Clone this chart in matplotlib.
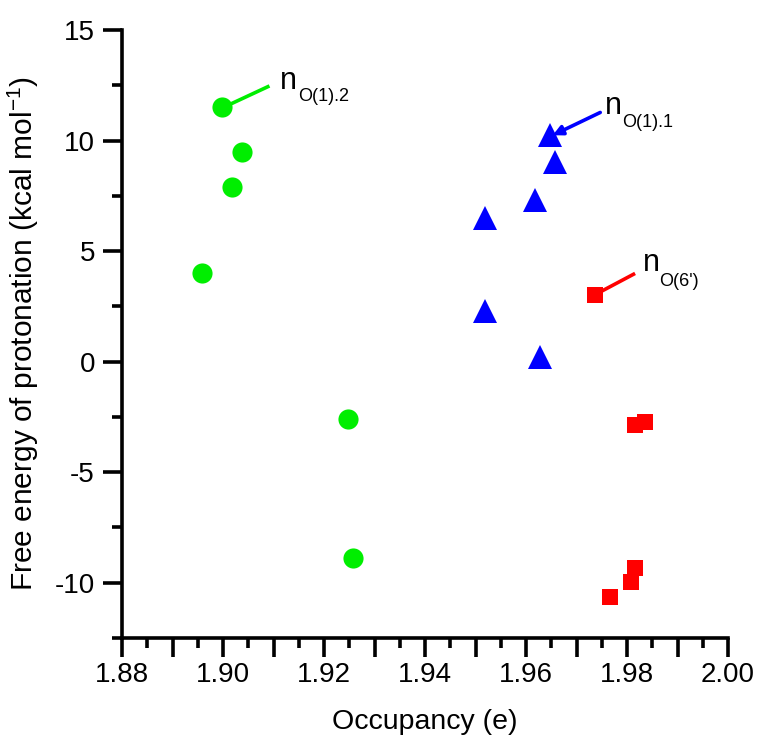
import matplotlib
matplotlib.use("Agg")
import matplotlib.pyplot as plt
from matplotlib.ticker import MultipleLocator

plt.rcParams['font.family'] = ['Liberation Sans', 'DejaVu Sans']
plt.rcParams['mathtext.fontset'] = 'custom'
plt.rcParams['mathtext.rm'] = 'Liberation Sans'
plt.rcParams['mathtext.it'] = 'Liberation Sans'

# Data
o12_x = [1.8998, 1.9038, 1.9018, 1.8959, 1.9248, 1.9257]
o12_y = [11.5, 9.5, 7.9, 4.0, -2.6, -8.9]

o11_x = [1.9648, 1.9657, 1.9618, 1.9518, 1.9518, 1.9628]
o11_y = [10.25, 9.05, 7.3, 6.5, 2.3, 0.2]

o6_x = [1.9737, 1.9816, 1.9836, 1.9816, 1.9807, 1.9766]
o6_y = [3.0, -2.85, -2.75, -9.35, -9.95, -10.65]

x_ticks = [1.88, 1.89, 1.90, 1.91, 1.92, 1.93, 1.94, 1.95, 1.96, 1.97, 1.98, 1.99, 2.00]
x_labels = ['1.88', '', '1.90', '', '1.92', '', '1.94', '', '1.96', '', '1.98', '', '2.00']
y_ticks = [-10, -5, 0, 5, 10, 15]
y_labels = ['-10', '-5', '0', '5', '10', '15']

fig = plt.figure(figsize=(7.58, 7.39), dpi=100)
ax = fig.add_axes([122/758, 1-638/739, (728-122)/758, (638-30)/739])

ax.plot(o12_x, o12_y, 'o', color='#00ee00', markersize=14.5, markeredgewidth=0, clip_on=False)
ax.plot(o11_x, o11_y, '^', color='#0000ff', markersize=17, markeredgewidth=0, clip_on=False)
ax.plot(o6_x, o6_y, 's', color='#ff0000', markersize=12, markeredgewidth=0, clip_on=False)

ax.set_xlim(1.88, 2.00)
ax.set_ylim(-12.5, 15)

for s in ['top', 'right']:
    ax.spines[s].set_visible(False)
for s in ['left', 'bottom']:
    ax.spines[s].set_linewidth(2.6)

ax.set_xticks(x_ticks)
ax.set_xticklabels(x_labels)
ax.xaxis.set_minor_locator(MultipleLocator(0.005))
ax.set_yticks(y_ticks)
ax.set_yticklabels(y_labels)
ax.yaxis.set_minor_locator(MultipleLocator(2.5))

ax.tick_params(which='major', direction='out', length=13.5, width=2.6, labelsize=20, pad=4)
ax.tick_params(which='minor', direction='out', length=7, width=2.6)
ax.tick_params(axis='y', which='major', pad=6)

ax.set_xlabel('Occupancy (e)', fontsize=20.5, labelpad=15)
ax.set_ylabel(r'Free energy of protonation (kcal mol$^{-1}$)', fontsize=21.5, labelpad=10)

# annotations
ax.plot([1.9014, 1.9092], [11.64, 12.47], color='#00ee00', lw=2.6, solid_capstyle='butt')
ax.text(1.9113, 12.32, 'n', fontsize=22, color='black', ha='left', va='baseline')
ax.text(1.9149, 11.78, 'O(1).2', fontsize=13, color='black', ha='left', va='baseline')

ax.annotate('', xy=(1.9653, 10.24), xytext=(1.9747, 11.27),
            arrowprops=dict(arrowstyle='-|>', color='#0000ff', lw=2.6,
                            mutation_scale=14, shrinkA=0, shrinkB=0))
ax.text(1.9756, 11.19, 'n', fontsize=22, color='black', ha='left', va='baseline')
ax.text(1.9790, 10.60, 'O(1).1', fontsize=13, color='black', ha='left', va='baseline')

ax.plot([1.9750, 1.9816], [3.19, 3.99], color='#ff0000', lw=2.6, solid_capstyle='butt')
ax.text(1.9832, 4.08, 'n', fontsize=22, color='black', ha='left', va='baseline')
ax.text(1.9863, 3.40, "O(6')", fontsize=13, color='black', ha='left', va='baseline')

fig.savefig('out.png', dpi=100)
